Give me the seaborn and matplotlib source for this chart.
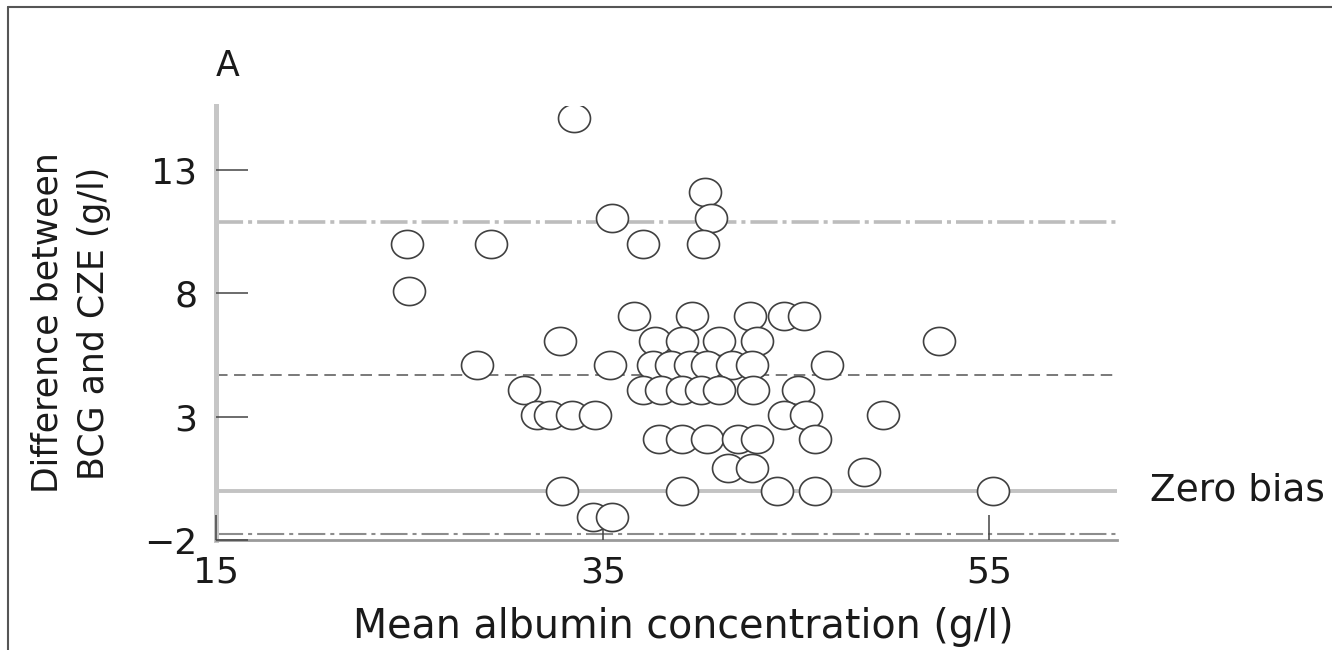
import numpy as np
import pandas as pd
import matplotlib
matplotlib.use("Agg")
import matplotlib.pyplot as plt
from matplotlib.path import Path
from matplotlib.lines import Line2D
import seaborn as sns

# Bland-Altman data: mean albumin (g/l) vs difference BCG - CZE (g/l)
mean_albumin = [33.5, 40.3, 35.5, 40.6, 24.9, 29.2, 37.1, 40.2, 25.0,
                36.6, 39.6, 42.6, 44.4, 45.4,
                32.8, 37.7, 39.1, 41.0, 43.0, 52.4,
                28.5, 35.4, 37.6, 38.55, 39.5, 40.4, 41.7, 42.7, 46.6,
                30.95, 37.1, 38.0, 39.1, 40.06, 41.0, 42.77, 45.1,
                31.6, 32.3, 33.4, 34.6, 44.4, 45.5, 49.5,
                37.9, 39.1, 40.4, 42.0, 43.0, 46.0,
                41.5, 42.7, 48.5,
                32.9, 39.1, 44.0, 46.0, 55.2,
                34.5, 35.5]
difference = ([15.1, 12.1, 11.05, 11.05, 10.0, 10.0, 10.0, 10.0, 8.1]
              + [7.1] * 5 + [6.05] * 6 + [5.1] * 9 + [4.1] * 8
              + [3.05] * 7 + [2.1] * 6 + [0.9, 0.9, 0.75]
              + [0.0] * 5 + [-1.05] * 2)

mean_bias = 4.7
upper_limit = 10.9
lower_limit = -1.75

x_ticks = [15, 35, 55]
y_ticks = [-2, 3, 8, 13]
y_tick_labels = ["\u22122", "3", "8", "13"]

df = pd.DataFrame({"mean": mean_albumin, "diff": difference})

sns.set_theme(style="white")
plt.rcParams["font.family"] = ["DejaVu Sans"]
plt.rcParams["lines.scale_dashes"] = False

fig = plt.figure(figsize=(13.32, 6.5), dpi=100)
W, H = 1332, 650
ax_left, ax_right, ax_top, ax_bottom = 216, 1117, 106, 540
ax = fig.add_axes([ax_left / W, 1 - ax_bottom / H,
                   (ax_right - ax_left) / W, (ax_bottom - ax_top) / H])
ax.set_axisbelow(False)

# slightly flattened open circle
theta = np.linspace(0, 2 * np.pi, 73)
ellipse = Path(np.column_stack([np.cos(theta), 0.88 * np.sin(theta)]), closed=True)

# reference lines
dashdot = (0, (19.5, 3.6, 2.9, 3.6))
ax.axhline(upper_limit, color="#bdbdbd", lw=2.6, linestyle=dashdot, zorder=1)
ax.axhline(mean_bias, color="#555555", lw=1.1, linestyle=(0, (8.3, 4.7)), zorder=1)
ax.axhline(0, color="#c3c3c3", lw=2.8, zorder=1)
ax.axhline(lower_limit, color="#8c8c8c", lw=1.5, linestyle=dashdot, zorder=1)

sns.scatterplot(data=df, x="mean", y="diff", ax=ax, marker=ellipse, s=530,
                color="white", edgecolor="#404040", linewidth=1.2, zorder=3)

ax.set_xlim(15, 61.6)
ax.set_ylim(-1.92, 15.6)
ax.set_xticks(x_ticks)
ax.set_xticklabels([str(t) for t in x_ticks])
ax.set_yticks(y_ticks)
ax.set_yticklabels(y_tick_labels)

for side in ["top", "right"]:
    ax.spines[side].set_visible(False)
ax.spines["left"].set_color("#c6c6c6")
ax.spines["left"].set_linewidth(3.6)
ax.spines["bottom"].set_color("#9a9a9a")
ax.spines["bottom"].set_linewidth(2.0)

ax.tick_params(axis="y", left=True, direction="in", length=23, width=1.1,
               color="#444444", pad=13.5, labelsize=26, labelcolor="#1a1a1a")
ax.tick_params(axis="x", bottom=True, direction="in", length=18, width=1.1,
               color="#444444", pad=11, labelsize=26, labelcolor="#1a1a1a")

ax.set_xlabel("Mean albumin concentration (g/l)", fontsize=28.5, color="#1a1a1a")
ax.xaxis.label.set_va("center")
ax.xaxis.set_label_coords((683 - ax_left) / (ax_right - ax_left),
                          (ax_bottom - 627) / (ax_bottom - ax_top))

ax.set_ylabel("Difference between\nBCG and CZE (g/l)", fontsize=25,
              color="#1a1a1a", linespacing=1.45)
ax.yaxis.label.set_va("center")
ax.yaxis.set_label_coords((71 - ax_left) / (ax_right - ax_left), 0.5)

ax.text((228 - ax_left) / (ax_right - ax_left),
        (ax_bottom - 66) / (ax_bottom - ax_top), "A",
        transform=ax.transAxes, ha="center", va="center",
        fontsize=25, color="#1a1a1a")

ax.annotate("Zero bias", xy=(1 + (1150 - ax_right) / (ax_right - ax_left), 0),
            xycoords=("axes fraction", "data"), ha="left", va="center",
            fontsize=27, color="#1a1a1a", annotation_clip=False)

# panel frame
fig.add_artist(Line2D([8 / W, 8 / W], [0, 1 - 7 / H], transform=fig.transFigure,
                      color="#555555", lw=1.5))
fig.add_artist(Line2D([8 / W, 1], [1 - 7 / H, 1 - 7 / H], transform=fig.transFigure,
                      color="#555555", lw=1.5))

fig.savefig("out.png", dpi=100, facecolor="white")
